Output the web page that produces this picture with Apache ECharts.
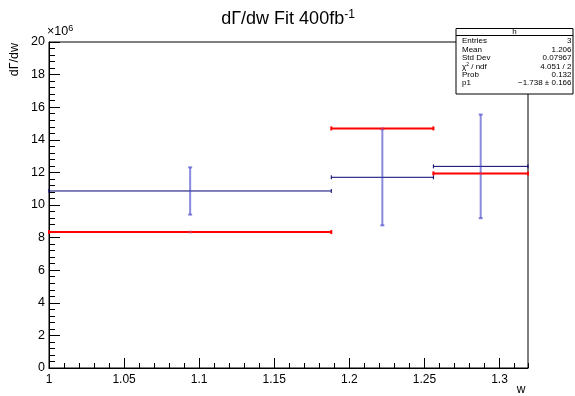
<!DOCTYPE html>
<html>
<head>
<meta charset="utf-8">
<script src="https://cdn.jsdelivr.net/npm/echarts@6/dist/echarts.min.js"></script>
<style>
html,body{margin:0;padding:0;background:#fff;}
#chart{width:575px;height:396px;}
</style>
</head>
<body>
<div id="chart"></div>
<script>
// ---- data ----
const binLow     = [1.000, 1.188, 1.256];
const binHigh    = [1.188, 1.256, 1.319];
const binCenter  = [1.094, 1.222, 1.2875];
const histValues = [10.86, 11.70, 12.37];   // x 10^6
const histErrors = [1.45, 2.95, 3.18];      // x 10^6
const fitValues  = [8.34, 14.70, 11.94];    // x 10^6
const xTickLabels = ['1', '1.05', '1.1', '1.15', '1.2', '1.25', '1.3'];
const yTickLabels = ['0', '2', '4', '6', '8', '10', '12', '14', '16', '18', '20'];
const statNames  = ['Entries', 'Mean', 'Std Dev', '{n|χ}{sup|2}{n| / ndf}', 'Prob', 'p1'];
const statValues = ['3', '1.206', '0.07967', '4.051 / 2', '0.132', '\u22121.738 \u00b1 0.166'];

const xMin = 1.0, xMax = 1.319, yMin = 0, yMax = 20;

const histData = binLow.map((l, i) => [l, binHigh[i], binCenter[i], histValues[i], histErrors[i]]);
const fitData  = binLow.map((l, i) => [l, binHigh[i], binCenter[i], fitValues[i]]);

const FONT = 'Liberation Sans, Arial, sans-serif';

function histRender(params, api) {
  const lo = api.coord([api.value(0), api.value(3)]);
  const hi = api.coord([api.value(1), api.value(3)]);
  const c  = api.coord([api.value(2), api.value(3)]);
  const eT = api.coord([api.value(2), api.value(3) + api.value(4)]);
  const eB = api.coord([api.value(2), api.value(3) - api.value(4)]);
  const navy = {stroke: '#000070', lineWidth: 1};
  const eb = {stroke: 'rgba(60,60,200,0.6)', lineWidth: 2};
  return {
    type: 'group',
    children: [
      {type: 'line', shape: {x1: lo[0], y1: lo[1], x2: hi[0], y2: hi[1]}, style: navy},
      {type: 'line', shape: {x1: lo[0], y1: lo[1] - 2, x2: lo[0], y2: lo[1] + 2}, style: navy},
      {type: 'line', shape: {x1: hi[0], y1: hi[1] - 2, x2: hi[0], y2: hi[1] + 2}, style: navy},
      {type: 'line', shape: {x1: c[0], y1: eT[1], x2: c[0], y2: eB[1]}, style: eb},
      {type: 'line', shape: {x1: c[0] - 2, y1: eT[1], x2: c[0] + 2, y2: eT[1]}, style: eb},
      {type: 'line', shape: {x1: c[0] - 2, y1: eB[1], x2: c[0] + 2, y2: eB[1]}, style: eb}
    ]
  };
}

function fitRender(params, api) {
  const lo = api.coord([api.value(0), api.value(3)]);
  const hi = api.coord([api.value(1), api.value(3)]);
  const c  = api.coord([api.value(2), api.value(3)]);
  const red = {stroke: '#ff0000', lineWidth: 2};
  return {
    type: 'group',
    children: [
      {type: 'line', shape: {x1: lo[0], y1: lo[1], x2: hi[0], y2: hi[1]}, style: red},
      {type: 'line', shape: {x1: lo[0], y1: lo[1] - 2, x2: lo[0], y2: lo[1] + 2}, style: red},
      {type: 'line', shape: {x1: hi[0], y1: hi[1] - 2, x2: hi[0], y2: hi[1] + 2}, style: red},
      {type: 'rect', shape: {x: c[0] - 1.5, y: c[1] - 1.5, width: 3, height: 3}, style: {fill: 'rgba(200,80,120,0.5)'}}
    ]
  };
}

const chart = echarts.init(document.getElementById('chart'), null, {renderer: 'canvas'});

const statsChildren = [
  {type: 'rect', shape: {x: 456, y: 28.5, width: 117, height: 65.5}, style: {fill: '#fff', stroke: '#000', lineWidth: 1}},
  {type: 'line', shape: {x1: 456, y1: 35.5, x2: 573, y2: 35.5}, style: {stroke: '#000', lineWidth: 1}},
  {type: 'text', style: {x: 514.5, y: 32, text: 'h', font: '8px ' + FONT, fill: '#000', align: 'center', verticalAlign: 'middle'}}
];
const rowY = [41, 49.5, 58, 66.5, 75, 83];
statNames.forEach((n, i) => {
  statsChildren.push({type: 'text', style: {x: 462, y: rowY[i], text: n, font: '8px ' + FONT, fill: '#000', align: 'left', verticalAlign: 'middle',
    rich: {n: {fontSize: 8, fontFamily: FONT}, sup: {fontSize: 5, fontFamily: FONT, verticalAlign: 'top', padding: [0, 0, 4, 0]}}}});
  statsChildren.push({type: 'text', style: {x: 571.5, y: rowY[i], text: statValues[i], font: '8px ' + FONT, fill: '#000', align: 'right', verticalAlign: 'middle'}});
});

chart.setOption({
  animation: false,
  backgroundColor: '#fff',
  grid: {left: 49, right: 47, top: 42, bottom: 28, show: true, borderColor: '#000', borderWidth: 1, backgroundColor: 'transparent'},
  xAxis: [
    {type: 'value', min: xMin, max: xMax, interval: 0.01, position: 'bottom',
     axisLine: {lineStyle: {color: '#000', width: 1}},
     axisTick: {inside: true, length: 5, lineStyle: {color: '#000'}},
     axisLabel: {show: false}, splitLine: {show: false}},
    {type: 'value', min: xMin, max: xMax, interval: 0.05, position: 'bottom',
     axisLine: {show: false},
     axisTick: {inside: true, length: 10, lineStyle: {color: '#000'}},
     axisLabel: {show: true, color: '#000', fontSize: 12, fontFamily: FONT, margin: 6, showMaxLabel: false,
       formatter: function (v) { const idx = Math.round((v - xMin) / 0.05); return xTickLabels[idx] !== undefined ? xTickLabels[idx] : ''; }},
     splitLine: {show: false}}
  ],
  yAxis: [
    {type: 'value', min: yMin, max: yMax, interval: 0.4, position: 'left',
     axisLine: {show: true, lineStyle: {color: '#000', width: 1}},
     axisTick: {inside: true, length: 6, lineStyle: {color: '#000'}},
     axisLabel: {show: false}, splitLine: {show: false}},
    {type: 'value', min: yMin, max: yMax, interval: 2, position: 'left',
     axisLine: {show: false},
     axisTick: {inside: true, length: 11, lineStyle: {color: '#000'}},
     axisLabel: {show: true, color: '#000', fontSize: 12.5, fontFamily: FONT, margin: 4,
       formatter: function (v) { const idx = Math.round(v / 2); return yTickLabels[idx] !== undefined ? yTickLabels[idx] : ''; }},
     splitLine: {show: false}}
  ],
  series: [
    {type: 'custom', name: 'h', xAxisIndex: 0, yAxisIndex: 0, renderItem: histRender, data: histData, encode: {x: [0, 1, 2], y: [3]}, z: 3},
    {type: 'custom', name: 'fit', xAxisIndex: 0, yAxisIndex: 0, renderItem: fitRender, data: fitData, encode: {x: [0, 1, 2], y: [3]}, z: 4}
  ],
  graphic: [
    {type: 'text', z: 10, style: {x: 288, y: 30, text: '{m|d\u0393/dw Fit 400fb}{s|-1}', align: 'center', verticalAlign: 'bottom',
      rich: {m: {fontSize: 18, fontFamily: FONT, fill: '#000'}, s: {fontSize: 12, fontFamily: FONT, fill: '#000', verticalAlign: 'top', padding: [0, 0, 9, 0]}}}},
    {type: 'text', z: 10, x: 15, y: 43, rotation: Math.PI / 2, style: {x: 0, y: 0, text: 'd\u0393/dw', font: '12.5px ' + FONT, fill: '#000', align: 'right', verticalAlign: 'middle'}},
    {type: 'text', z: 10, style: {x: 47, y: 39, text: '{m|\u00d710}{s|6}', align: 'left', verticalAlign: 'bottom',
      rich: {m: {fontSize: 12.5, fontFamily: FONT, fill: '#000'}, s: {fontSize: 9, fontFamily: FONT, fill: '#000', verticalAlign: 'top', padding: [0, 0, 6, 0]}}}},
    {type: 'text', z: 10, style: {x: 521, y: 390, text: 'w', font: '12px ' + FONT, fill: '#000', align: 'center', verticalAlign: 'middle'}},
    {type: 'group', z: 20, children: statsChildren}
  ]
});
</script>
</body>
</html>
